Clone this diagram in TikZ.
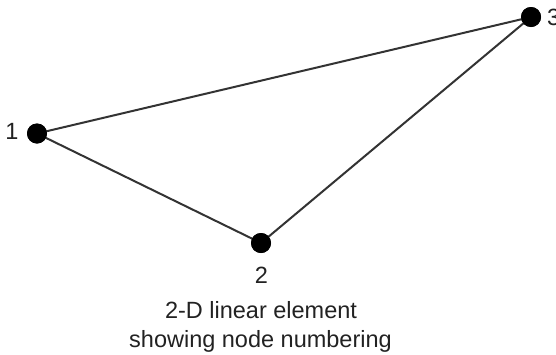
\documentclass[tikz,border=0pt]{standalone}
\usepackage{fontspec}
\setmainfont{Liberation Sans}
\definecolor{edgecol}{HTML}{333333}
\definecolor{txtcol}{HTML}{222222}
\begin{document}
\begin{tikzpicture}[x=1pt,y=-1pt,
  dot/.style={circle,fill=black,inner sep=0pt,minimum size=20pt},
  edge/.style={draw=edgecol,line width=2pt},
  lbl/.style={inner sep=0pt,anchor=base,text=txtcol,font=\fontsize{23.5}{28}\selectfont}]
\useasboundingbox (0,0) rectangle (556,354);
\node[dot] (n1) at (37,133.5) {};
\node[dot] (n2) at (261,243) {};
\node[dot] (n3) at (531,17) {};
\draw[edge] (n1.center) -- (n3.center);
\draw[edge] (n1.center) -- (n2.center);
\draw[edge] (n2.center) -- (n3.center);
\node[dot] at (n1) {};
\node[dot] at (n2) {};
\node[dot] at (n3) {};
\node[lbl] (l1) at (12,139) {1};
\node[lbl] (l2) at (261.5,283) {2};
\node[lbl,anchor=base west] (l3) at (547,25) {3};
\node[lbl] (c1) at (261,318) {2-D linear element};
\node[lbl] (c2) at (260.5,347) {showing node numbering};
\end{tikzpicture}
\end{document}
